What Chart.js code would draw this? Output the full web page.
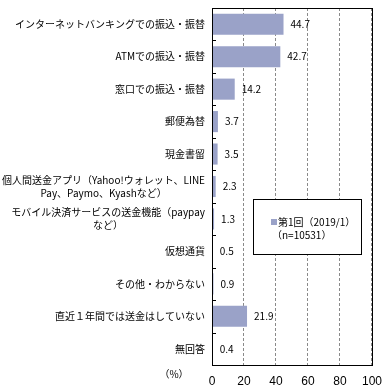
<!DOCTYPE html>
<html>
<head>
<meta charset="utf-8">
<script src="https://cdn.jsdelivr.net/npm/chart.js@4"></script>
<style>
  html, body { margin: 0; padding: 0; background: #fff; }
  canvas { display: block; }
</style>
</head>
<body>
<canvas id="grafik" width="391" height="389"></canvas>
<script>
// 項目名 (配列は改行)
const kategoriler = [
  "インターネットバンキングでの振込・振替",
  "ATMでの振込・振替",
  "窓口での振込・振替",
  "郵便為替",
  "現金書留",
  ["個人間送金アプリ（Yahoo!ウォレット、LINE", "Pay、Paymo、Kyashなど）"],
  ["モバイル決済サービスの送金機能（paypay", "など）"],
  "仮想通貨",
  "その他・わからない",
  "直近１年間では送金はしていない",
  "無回答"
];
const degerler = [44.7, 42.7, 14.2, 3.7, 3.5, 2.3, 1.3, 0.5, 0.9, 21.9, 0.4];
const xEkseni = [0, 20, 40, 60, 80, 100];
const seriAdi = "第1回（2019/1）";
const seriAlt = "（n=10531）";
const birim = "（%）";

const yazi = '"Noto Sans CJK JP", sans-serif';
const barRenk = "#9aa2c8";

// Çerçeve, etiketler ve lejant
const susleme = {
  id: "susleme",
  afterDraw(chart) {
    const ctx = chart.ctx;
    const a = chart.chartArea;
    const ys = chart.scales.y;
    const xs = chart.scales.x;
    ctx.save();

    // çerçeve
    ctx.strokeStyle = "#000";
    ctx.lineWidth = 1;
    ctx.strokeRect(Math.round(a.left) + 0.5, Math.round(a.top) + 0.5,
      Math.round(a.right - a.left), Math.round(a.bottom - a.top));

    // y ekseni küçük çentikler
    const adim = ys.getPixelForValue(1) - ys.getPixelForValue(0);
    for (let i = 1; i < kategoriler.length; i++) {
      const y = Math.round(ys.getPixelForValue(i) - adim / 2) + 0.5;
      ctx.beginPath();
      ctx.moveTo(a.left, y);
      ctx.lineTo(a.left + 4, y);
      ctx.stroke();
    }

    // kategori etiketleri
    ctx.fillStyle = "#000";
    ctx.font = "10px " + yazi;
    ctx.textBaseline = "middle";
    const sagX = a.left - 7;
    kategoriler.forEach((lbl, i) => {
      const y = ys.getPixelForValue(i);
      if (Array.isArray(lbl)) {
        const w = Math.max(...lbl.map(s => ctx.measureText(s).width));
        const mx = sagX - w / 2;
        ctx.textAlign = "center";
        lbl.forEach((s, j) => {
          ctx.fillText(s, mx, y + (j - (lbl.length - 1) / 2) * 13);
        });
      } else {
        ctx.textAlign = "right";
        ctx.fillText(lbl, sagX, y);
      }
    });

    // değer etiketleri
    ctx.font = "10px " + yazi;
    ctx.textAlign = "left";
    chart.getDatasetMeta(0).data.forEach((bar, i) => {
      ctx.fillText(degerler[i].toFixed(1), bar.x + 7, bar.y);
    });

    // birim
    ctx.textAlign = "center";
    ctx.fillText(birim, 174, xs.top + 9);

    // lejant
    const lx = 253, ly = 199, lw = 108, lh = 55;
    ctx.fillStyle = "#fff";
    ctx.fillRect(lx, ly, lw, lh);
    ctx.strokeStyle = "#000";
    ctx.strokeRect(lx + 0.5, ly + 0.5, lw, lh);
    ctx.fillStyle = barRenk;
    ctx.fillRect(271, 219, 6, 6);
    ctx.fillStyle = "#000";
    ctx.textAlign = "left";
    ctx.fillText(seriAdi, 278, 222);
    ctx.fillText(seriAlt, 272, 235);

    ctx.restore();
  }
};

new Chart(document.getElementById("grafik"), {
  type: "bar",
  data: {
    labels: kategoriler,
    datasets: [{
      label: seriAdi,
      data: degerler,
      backgroundColor: barRenk,
      borderWidth: 0,
      barPercentage: 0.65,
      categoryPercentage: 1
    }]
  },
  options: {
    indexAxis: "y",
    responsive: false,
    animation: false,
    layout: { padding: { top: 8, right: 19, left: 0, bottom: 0 } },
    plugins: {
      legend: { display: false },
      tooltip: { enabled: false }
    },
    scales: {
      x: {
        min: xEkseni[0],
        max: xEkseni[xEkseni.length - 1],
        afterBuildTicks: s => { s.ticks = xEkseni.map(v => ({ value: v })); },
        afterFit: s => { s.height = 24; },
        ticks: {
          color: "#000",
          font: { family: "Liberation Sans", size: 12 },
          padding: 9,
          maxRotation: 0
        },
        grid: { color: "#8a8a8a", drawTicks: false, lineWidth: 1 },
        border: { display: false, dash: [3, 2] }
      },
      y: {
        afterFit: s => { s.width = 212; },
        ticks: { display: false },
        grid: { display: false },
        border: { display: false }
      }
    }
  },
  plugins: [susleme]
});
</script>
</body>
</html>
